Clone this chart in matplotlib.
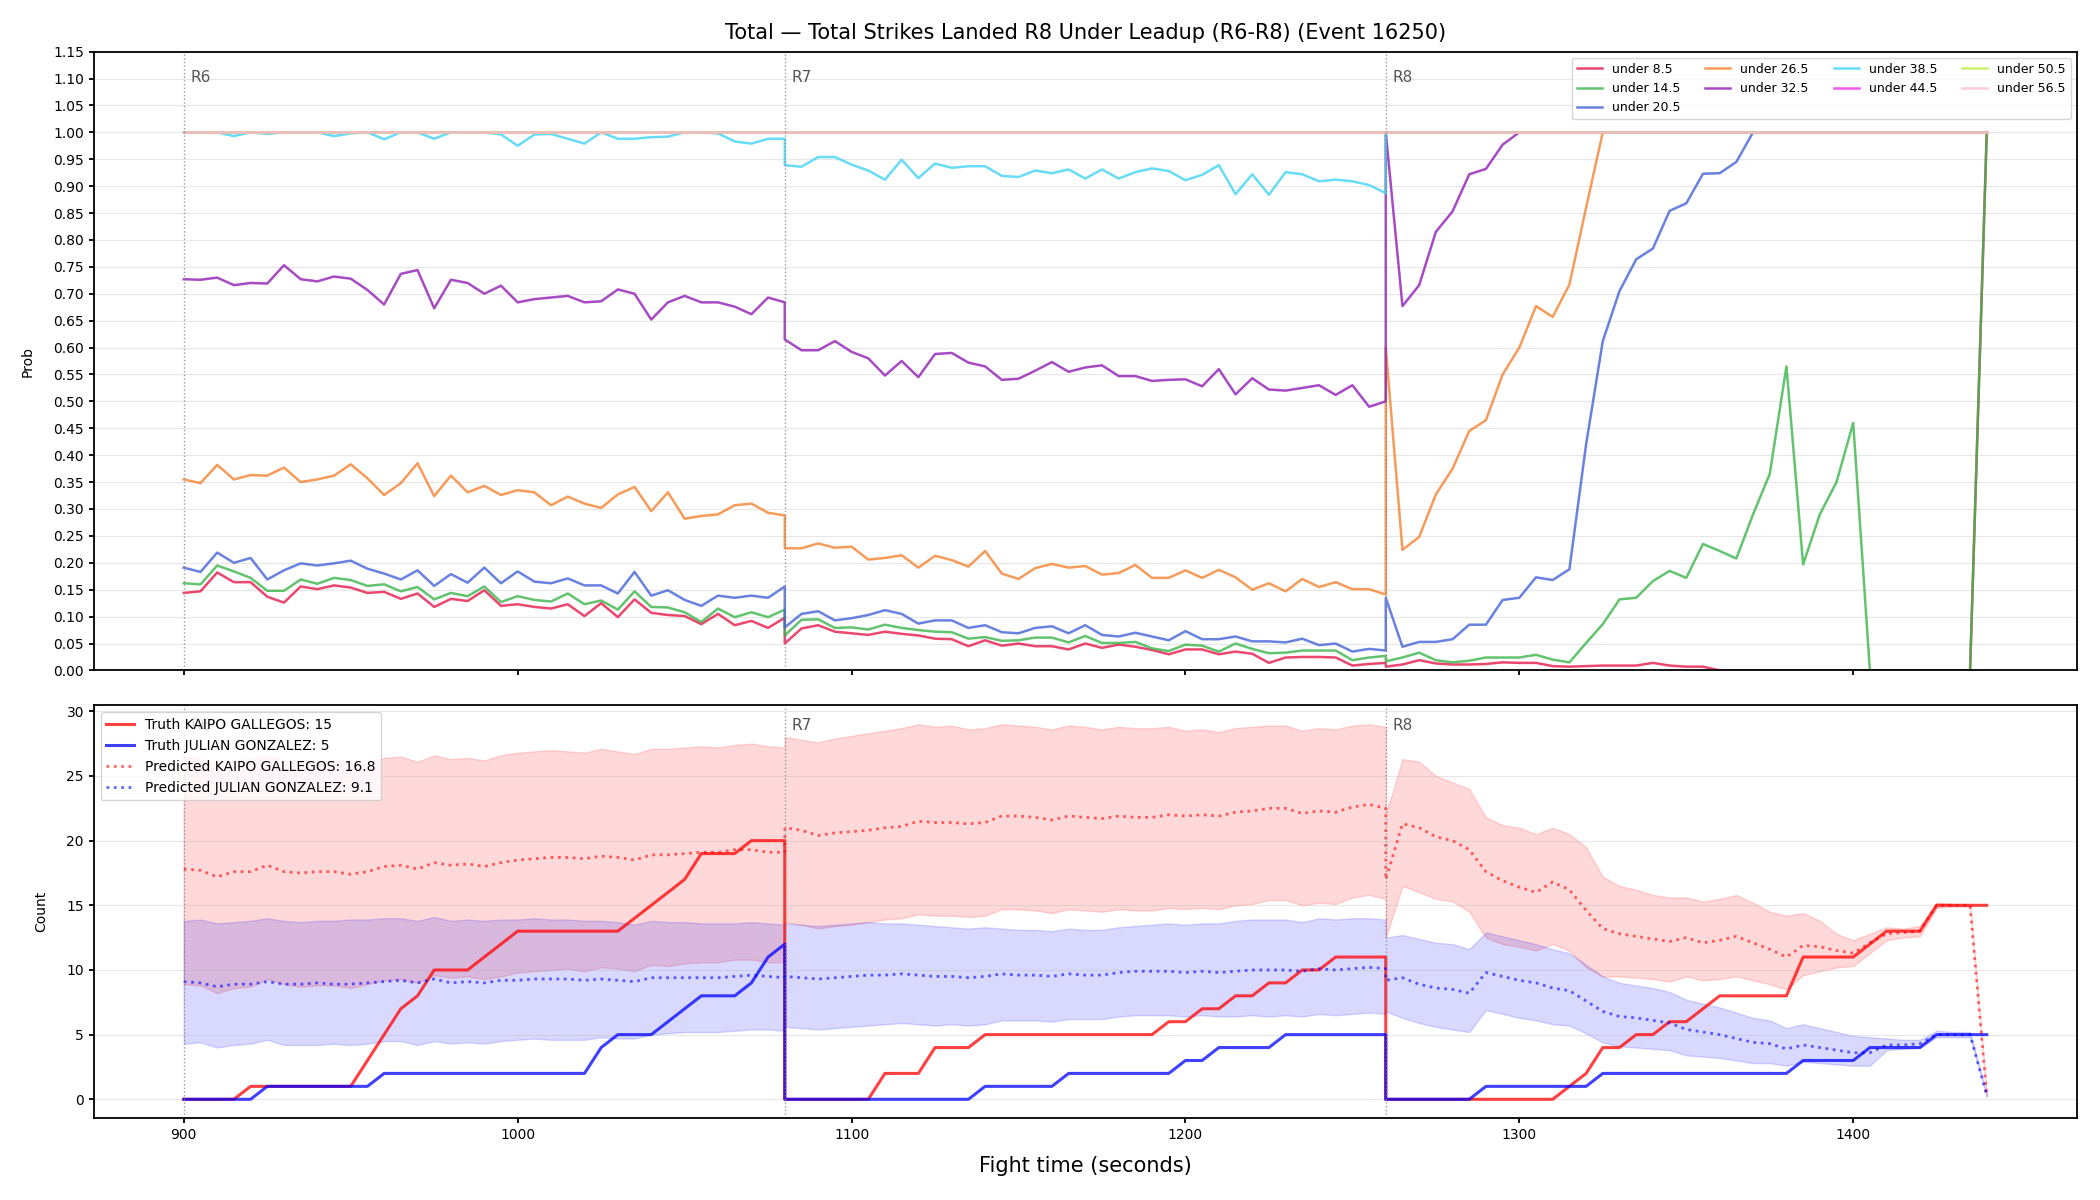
import numpy as np
import matplotlib.pyplot as plt

# sample grid: three rounds of 180 s, sampled every 5 s (round edges repeated)
round_starts = [900, 1080, 1260]
round_names = ["R6", "R7", "R8"]
t = np.concatenate([np.arange(s, s + 181, 5) for s in round_starts])

# --- top panel: P(total strikes under line) ---
lines = ["under 8.5", "under 14.5", "under 20.5", "under 26.5", "under 32.5",
         "under 38.5", "under 44.5", "under 50.5", "under 56.5"]
colors = ["#e6194b", "#3cb44b", "#4363d8", "#f58231", "#911eb4",
          "#42d4f4", "#f032e6", "#bfef45", "#fabed4"]

under_8_5 = (
    [0.144, 0.147, 0.182, 0.164, 0.164, 0.137, 0.126, 0.156, 0.151, 0.158,
     0.154, 0.144, 0.146, 0.133, 0.143, 0.118, 0.133, 0.129, 0.149, 0.120,
     0.123, 0.118, 0.115, 0.123, 0.101, 0.125, 0.099, 0.132, 0.107, 0.103,
     0.101, 0.086, 0.105, 0.084, 0.092, 0.079, 0.098]
    + [0.050, 0.078, 0.084, 0.072, 0.069, 0.066, 0.072, 0.068, 0.065, 0.059,
       0.058, 0.045, 0.056, 0.046, 0.050, 0.045, 0.045, 0.039, 0.050, 0.042,
       0.048, 0.044, 0.038, 0.030, 0.039, 0.039, 0.030, 0.035, 0.031, 0.014,
       0.024, 0.025, 0.025, 0.024, 0.009, 0.012, 0.014]
    + [0.007, 0.011, 0.019, 0.013, 0.011, 0.011, 0.012, 0.015, 0.014, 0.014,
       0.008, 0.007, 0.008, 0.009, 0.009, 0.009, 0.014, 0.009, 0.007, 0.007]
    + [0.0] * 16 + [1.0]
)
under_14_5 = (
    [0.162, 0.160, 0.195, 0.184, 0.172, 0.148, 0.148, 0.169, 0.161, 0.172,
     0.168, 0.157, 0.160, 0.147, 0.155, 0.132, 0.144, 0.138, 0.156, 0.127,
     0.138, 0.131, 0.128, 0.143, 0.123, 0.130, 0.113, 0.147, 0.118, 0.117,
     0.108, 0.090, 0.115, 0.099, 0.108, 0.099, 0.113]
    + [0.065, 0.094, 0.095, 0.079, 0.080, 0.076, 0.085, 0.079, 0.075, 0.072,
       0.071, 0.059, 0.062, 0.055, 0.056, 0.061, 0.061, 0.052, 0.064, 0.051,
       0.051, 0.053, 0.041, 0.036, 0.048, 0.046, 0.035, 0.050, 0.040, 0.032,
       0.033, 0.037, 0.037, 0.037, 0.019, 0.024, 0.027]
    + [0.017, 0.024, 0.033, 0.019, 0.015, 0.018, 0.024, 0.024, 0.024, 0.029,
       0.020, 0.015, 0.051, 0.086, 0.132, 0.135, 0.166, 0.185, 0.172, 0.235,
       0.222, 0.208, 0.290, 0.365, 0.565, 0.197, 0.290, 0.350, 0.460, 0.0,
       0.0, 0.0, 0.0, 0.0, 0.0, 0.0, 1.0]
)
under_20_5 = (
    [0.191, 0.183, 0.219, 0.200, 0.209, 0.169, 0.186, 0.199, 0.195, 0.199,
     0.204, 0.189, 0.180, 0.169, 0.186, 0.157, 0.179, 0.163, 0.191, 0.162,
     0.184, 0.165, 0.162, 0.171, 0.158, 0.158, 0.143, 0.183, 0.139, 0.149,
     0.131, 0.120, 0.139, 0.135, 0.139, 0.135, 0.156]
    + [0.080, 0.105, 0.110, 0.093, 0.097, 0.103, 0.112, 0.105, 0.087, 0.093,
       0.093, 0.079, 0.084, 0.071, 0.069, 0.079, 0.082, 0.069, 0.084, 0.066,
       0.063, 0.070, 0.063, 0.056, 0.073, 0.058, 0.058, 0.063, 0.054, 0.054,
       0.052, 0.059, 0.047, 0.050, 0.035, 0.040, 0.037]
    + [0.135, 0.044, 0.053, 0.053, 0.058, 0.085, 0.085, 0.131, 0.135, 0.173,
       0.168, 0.188, 0.420, 0.612, 0.705, 0.764, 0.784, 0.854, 0.868, 0.923,
       0.924, 0.945]
    + [1.0] * 15
)
under_26_5 = (
    [0.355, 0.348, 0.382, 0.355, 0.363, 0.362, 0.377, 0.350, 0.355, 0.362,
     0.383, 0.357, 0.326, 0.348, 0.385, 0.324, 0.362, 0.331, 0.343, 0.326,
     0.335, 0.331, 0.307, 0.323, 0.310, 0.302, 0.327, 0.341, 0.296, 0.331,
     0.282, 0.287, 0.290, 0.307, 0.310, 0.293, 0.288]
    + [0.227, 0.227, 0.236, 0.228, 0.230, 0.206, 0.209, 0.214, 0.191, 0.213,
       0.205, 0.193, 0.222, 0.180, 0.170, 0.190, 0.198, 0.191, 0.194, 0.178,
       0.181, 0.196, 0.172, 0.172, 0.186, 0.172, 0.187, 0.173, 0.150, 0.162,
       0.147, 0.170, 0.155, 0.164, 0.151, 0.151, 0.141]
    + [0.600, 0.224, 0.248, 0.327, 0.375, 0.445, 0.465, 0.550, 0.600, 0.677,
       0.657, 0.717, 0.860]
    + [1.0] * 24
)
under_32_5 = (
    [0.727, 0.726, 0.730, 0.716, 0.720, 0.719, 0.753, 0.727, 0.723, 0.732,
     0.728, 0.707, 0.680, 0.737, 0.744, 0.673, 0.726, 0.720, 0.700, 0.715,
     0.684, 0.690, 0.693, 0.696, 0.684, 0.686, 0.708, 0.700, 0.652, 0.684,
     0.696, 0.684, 0.684, 0.676, 0.662, 0.693, 0.684]
    + [0.615, 0.595, 0.595, 0.612, 0.592, 0.580, 0.548, 0.575, 0.545, 0.588,
       0.590, 0.572, 0.565, 0.540, 0.542, 0.557, 0.573, 0.555, 0.563, 0.567,
       0.547, 0.547, 0.538, 0.540, 0.541, 0.528, 0.560, 0.513, 0.543, 0.522,
       0.520, 0.525, 0.530, 0.512, 0.530, 0.490, 0.500]
    + [1.0, 0.677, 0.716, 0.815, 0.853, 0.922, 0.932, 0.977]
    + [1.0] * 29
)
under_38_5 = (
    [1.0, 1.0, 1.0, 0.993, 1.0, 0.997, 1.0, 1.0, 1.0, 0.993,
     0.998, 1.0, 0.987, 1.0, 1.0, 0.988, 1.0, 1.0, 1.0, 0.996,
     0.975, 0.996, 0.997, 0.988, 0.979, 1.0, 0.988, 0.988, 0.991, 0.992,
     1.0, 1.0, 0.998, 0.983, 0.979, 0.988, 0.988]
    + [0.939, 0.936, 0.954, 0.954, 0.940, 0.929, 0.912, 0.949, 0.915, 0.942,
       0.934, 0.937, 0.937, 0.919, 0.917, 0.929, 0.924, 0.931, 0.914, 0.931,
       0.914, 0.926, 0.933, 0.928, 0.911, 0.921, 0.939, 0.885, 0.922, 0.884,
       0.926, 0.922, 0.909, 0.912, 0.909, 0.902, 0.887]
    + [1.0] * 37
)
under_44_5 = [1.0] * 111
under_50_5 = [1.0] * 111
under_56_5 = [1.0] * 111
probs = [under_8_5, under_14_5, under_20_5, under_26_5, under_32_5,
         under_38_5, under_44_5, under_50_5, under_56_5]

# --- bottom panel: cumulative strikes landed ---
fighters = ["KAIPO GALLEGOS", "JULIAN GONZALEZ"]
final_pred = [16.8, 9.1]

truth_kaipo = (
    [0, 0, 0, 0, 1, 1, 1, 1, 1, 1, 1, 3, 5, 7, 8, 10, 10, 10, 11, 12,
     13, 13, 13, 13, 13, 13, 13, 14, 15, 16, 17, 19, 19, 19, 20, 20, 20]
    + [0, 0, 0, 0, 0, 0, 2, 2, 2, 4, 4, 4, 5, 5, 5, 5, 5, 5, 5, 5,
       5, 5, 5, 6, 6, 7, 7, 8, 8, 9, 9, 10, 10, 11, 11, 11, 11]
    + [0, 0, 0, 0, 0, 0, 0, 0, 0, 0, 0, 1, 2, 4, 4, 5, 5, 6, 6, 7,
       8, 8, 8, 8, 8, 11, 11, 11, 11, 12, 13, 13, 13, 15, 15, 15, 15]
)
truth_julian = (
    [0, 0, 0, 0, 0, 1, 1, 1, 1, 1, 1, 1, 2, 2, 2, 2, 2, 2, 2, 2,
     2, 2, 2, 2, 2, 4, 5, 5, 5, 6, 7, 8, 8, 8, 9, 11, 12]
    + [0, 0, 0, 0, 0, 0, 0, 0, 0, 0, 0, 0, 1, 1, 1, 1, 1, 2, 2, 2,
       2, 2, 2, 2, 3, 3, 4, 4, 4, 4, 5, 5, 5, 5, 5, 5, 5]
    + [0, 0, 0, 0, 0, 0, 1, 1, 1, 1, 1, 1, 1, 2, 2, 2, 2, 2, 2, 2,
       2, 2, 2, 2, 2, 3, 3, 3, 3, 4, 4, 4, 4, 5, 5, 5, 5]
)
pred_kaipo = (
    [17.8, 17.7, 17.2, 17.6, 17.6, 18.1, 17.6, 17.5, 17.6, 17.6,
     17.4, 17.6, 18.0, 18.1, 17.8, 18.3, 18.1, 18.2, 18.0, 18.3,
     18.5, 18.6, 18.7, 18.7, 18.6, 18.8, 18.7, 18.5, 18.9, 18.9,
     19.0, 19.1, 19.1, 19.3, 19.3, 19.1, 19.1]
    + [21.0, 20.8, 20.4, 20.6, 20.7, 20.8, 21.0, 21.1, 21.5, 21.4,
       21.4, 21.3, 21.4, 21.9, 21.9, 21.8, 21.6, 21.9, 21.8, 21.7,
       21.9, 21.8, 21.8, 22.0, 21.9, 22.0, 21.9, 22.2, 22.3, 22.5,
       22.5, 22.1, 22.3, 22.2, 22.6, 22.8, 22.5]
    + [17.0, 21.3, 21.0, 20.3, 20.0, 19.3, 17.6, 16.9, 16.4, 16.0,
       16.8, 16.2, 14.6, 13.2, 12.8, 12.6, 12.4, 12.2, 12.5, 12.1,
       12.3, 12.6, 12.1, 11.6, 11.0, 11.9, 11.8, 11.5, 11.3, 12.1,
       12.8, 12.9, 13.0, 15.0, 15.0, 15.0, 0.3]
)
kaipo_hi = (
    [26.5, 26.3, 25.9, 26.2, 26.3, 26.6, 26.1, 26.1, 26.0, 26.2,
     26.1, 25.9, 26.4, 26.5, 26.1, 26.6, 26.3, 26.4, 26.2, 26.6,
     26.8, 26.9, 27.0, 26.9, 26.8, 27.1, 26.9, 26.7, 27.1, 27.1,
     27.2, 27.3, 27.2, 27.4, 27.5, 27.3, 27.2]
    + [28.0, 27.8, 27.6, 27.9, 28.1, 28.3, 28.5, 28.7, 29.0, 28.8,
       28.9, 28.6, 28.7, 29.0, 28.9, 28.8, 28.6, 28.9, 28.8, 28.6,
       28.8, 28.7, 28.7, 28.8, 28.5, 28.6, 28.4, 28.7, 28.8, 28.9,
       28.9, 28.5, 28.7, 28.6, 28.9, 29.0, 28.8]
    + [22.0, 26.3, 26.1, 25.0, 24.5, 24.0, 21.8, 21.2, 21.0, 20.5,
       21.0, 20.5, 19.5, 17.2, 16.5, 16.2, 15.8, 15.6, 15.6, 15.3,
       15.5, 15.8, 15.2, 14.5, 14.2, 14.4, 13.8, 12.8, 12.3, 12.8,
       13.3, 13.2, 13.4, 15.2, 15.1, 15.0, 0.4]
)
kaipo_lo = (
    [8.9, 8.8, 8.2, 8.6, 8.7, 9.3, 8.9, 8.7, 8.8, 8.8,
     8.6, 8.9, 9.2, 9.3, 9.0, 9.6, 9.4, 9.5, 9.3, 9.5,
     9.8, 9.9, 10.0, 10.1, 9.9, 10.2, 10.1, 9.9, 10.4, 10.3,
     10.5, 10.6, 10.6, 10.8, 10.8, 10.6, 10.6]
    + [13.7, 13.5, 13.2, 13.4, 13.5, 13.7, 13.9, 14.0, 14.3, 14.2,
       14.2, 14.1, 14.2, 14.7, 14.7, 14.6, 14.4, 14.7, 14.6, 14.5,
       14.7, 14.6, 14.6, 14.8, 14.7, 14.8, 14.7, 15.0, 15.1, 15.4,
       15.4, 15.0, 15.2, 15.1, 15.6, 15.8, 15.5]
    + [12.5, 16.5, 16.0, 15.5, 15.3, 14.5, 12.5, 12.0, 11.8, 11.5,
       12.0, 11.5, 10.2, 9.5, 9.5, 9.4, 9.3, 9.1, 9.5, 9.2,
       9.3, 9.5, 9.2, 8.9, 8.5, 9.6, 9.9, 10.2, 10.3, 11.3,
       12.3, 12.5, 12.6, 14.8, 14.9, 14.9, 0.2]
)
pred_julian = (
    [9.1, 9.0, 8.7, 8.9, 8.9, 9.1, 8.9, 8.9, 9.0, 8.9,
     8.9, 9.0, 9.1, 9.2, 9.0, 9.3, 9.0, 9.1, 9.0, 9.2,
     9.2, 9.3, 9.3, 9.3, 9.2, 9.3, 9.2, 9.1, 9.4, 9.4,
     9.4, 9.4, 9.4, 9.5, 9.6, 9.5, 9.4]
    + [9.5, 9.4, 9.3, 9.4, 9.5, 9.6, 9.6, 9.7, 9.6, 9.5,
       9.5, 9.4, 9.5, 9.7, 9.6, 9.6, 9.5, 9.7, 9.6, 9.6,
       9.8, 9.9, 9.9, 9.9, 9.8, 9.9, 9.8, 9.9, 10.0, 10.0,
       10.0, 9.9, 10.1, 10.0, 10.1, 10.2, 10.1]
    + [9.2, 9.4, 8.9, 8.6, 8.5, 8.2, 9.8, 9.5, 9.2, 9.0,
       8.6, 8.4, 7.6, 6.8, 6.4, 6.3, 6.1, 5.9, 5.4, 5.2,
       5.0, 4.7, 4.4, 4.3, 3.9, 4.2, 4.0, 3.8, 3.6, 3.6,
       4.2, 4.2, 4.3, 5.0, 5.0, 5.0, 0.3]
)
julian_hi = (
    [13.8, 13.9, 13.6, 13.7, 13.8, 14.0, 13.8, 13.7, 13.8, 13.8,
     13.9, 13.9, 14.0, 14.0, 13.8, 14.1, 13.8, 13.9, 13.8, 13.9,
     13.9, 14.0, 13.9, 13.9, 13.8, 13.8, 13.7, 13.5, 13.8, 13.7,
     13.7, 13.6, 13.6, 13.6, 13.7, 13.6, 13.5]
    + [13.6, 13.5, 13.4, 13.5, 13.6, 13.7, 13.6, 13.6, 13.5, 13.4,
       13.3, 13.2, 13.3, 13.2, 13.1, 13.1, 13.0, 13.2, 13.1, 13.1,
       13.3, 13.4, 13.5, 13.6, 13.5, 13.6, 13.6, 13.8, 13.9, 13.9,
       13.9, 13.7, 14.0, 13.9, 14.0, 14.0, 13.9]
    + [12.5, 12.7, 12.4, 12.1, 12.0, 11.6, 12.9, 12.6, 12.3, 12.0,
       11.6, 11.3, 10.4, 9.5, 9.0, 8.8, 8.6, 8.3, 7.7, 7.4,
       7.1, 6.7, 6.3, 6.1, 5.5, 5.8, 5.5, 5.2, 4.9, 4.8,
       4.7, 4.6, 4.6, 5.3, 5.2, 5.2, 0.4]
)
julian_lo = (
    [4.3, 4.4, 4.0, 4.2, 4.3, 4.6, 4.2, 4.2, 4.2, 4.3,
     4.2, 4.3, 4.5, 4.5, 4.2, 4.5, 4.3, 4.4, 4.3, 4.5,
     4.6, 4.7, 4.6, 4.6, 4.6, 4.8, 4.7, 4.7, 5.0, 5.1,
     5.2, 5.2, 5.2, 5.3, 5.4, 5.4, 5.3]
    + [5.6, 5.5, 5.4, 5.5, 5.6, 5.7, 5.8, 5.9, 5.8, 5.7,
       5.8, 5.7, 5.8, 6.1, 6.1, 6.1, 6.0, 6.2, 6.2, 6.2,
       6.4, 6.5, 6.5, 6.5, 6.4, 6.5, 6.4, 6.4, 6.5, 6.4,
       6.5, 6.4, 6.6, 6.5, 6.6, 6.7, 6.6]
    + [6.8, 6.3, 5.9, 5.6, 5.4, 5.2, 6.9, 6.6, 6.3, 6.1,
       5.8, 5.7, 5.1, 4.4, 4.1, 4.0, 3.9, 3.8, 3.4, 3.3,
       3.2, 3.0, 2.8, 2.8, 2.6, 2.9, 2.8, 2.7, 2.6, 2.6,
       3.8, 3.9, 4.0, 4.8, 4.8, 4.8, 0.2]
)

plt.rcParams["axes.linewidth"] = 1.3
plt.rcParams["xtick.major.width"] = 1.3
plt.rcParams["ytick.major.width"] = 1.3

fig, (ax1, ax2) = plt.subplots(2, 1, figsize=(21, 12), dpi=100, sharex=True,
                               gridspec_kw=dict(height_ratios=[3, 2], hspace=0.068))
fig.subplots_adjust(left=0.0446, right=0.989, top=0.957, bottom=0.0683)

for vals, lab, col in zip(probs, lines, colors):
    ax1.plot(t, vals, color=col, lw=1.8, alpha=0.8, label=lab)

ax1.set_ylim(0, 1.15)
ax1.set_yticks(np.arange(0, 1.1501, 0.05))
ax1.set_yticklabels([f"{v:.2f}" for v in np.arange(0, 1.1501, 0.05)])
ax1.set_ylabel("Prob", fontsize=10, labelpad=13)
ax1.set_title("Total — Total Strikes Landed R8 Under Leadup (R6-R8) (Event 16250)",
              fontsize=15, pad=9)
ax1.grid(axis="y", alpha=0.3)
ax1.legend(loc="upper right", ncol=4, fontsize=9)

# bottom: truth, prediction and band per fighter
ax2.fill_between(t, kaipo_lo, kaipo_hi, color="red", alpha=0.15)
ax2.fill_between(t, julian_lo, julian_hi, color="blue", alpha=0.15)
ax2.plot(t, truth_kaipo, color="red", lw=2.2, alpha=0.75,
         label=f"Truth {fighters[0]}: {truth_kaipo[-1]}")
ax2.plot(t, truth_julian, color="blue", lw=2.2, alpha=0.75,
         label=f"Truth {fighters[1]}: {truth_julian[-1]}")
ax2.plot(t, pred_kaipo, color="red", lw=2, ls=":", alpha=0.6,
         label=f"Predicted {fighters[0]}: {final_pred[0]}")
ax2.plot(t, pred_julian, color="blue", lw=2, ls=":", alpha=0.6,
         label=f"Predicted {fighters[1]}: {final_pred[1]}")
ax2.set_ylabel("Count", fontsize=10, labelpad=13)
ax2.set_xlabel("Fight time (seconds)", fontsize=15, labelpad=10)
ax2.grid(axis="y", alpha=0.3)
ax2.legend(loc="upper left", fontsize=10)

for ax in (ax1, ax2):
    for x0, name in zip(round_starts, round_names):
        ax.axvline(x0, color="gray", ls=":", lw=1, alpha=0.8)
        ax.text(x0 + 2, 0.97, name, transform=ax.get_xaxis_transform(),
                ha="left", va="top", fontsize=11, color="#555555")

fig.savefig("out.png", dpi=100)
